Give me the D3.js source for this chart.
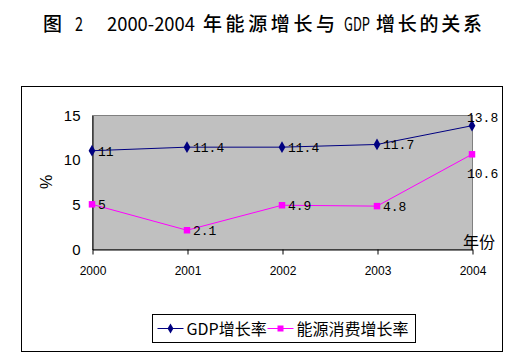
<!DOCTYPE html>
<html>
<head>
<meta charset="utf-8">
<script src="https://cdn.jsdelivr.net/npm/d3@7"></script>
<style>
  body { margin: 0; background: #fff; }
  svg { display: block; }
</style>
</head>
<body>
<div id="chart"></div>
<script>
    const years = ['2000', '2001', '2002', '2003', '2004'];
    const gdpGrowth = [11, 11.4, 11.4, 11.7, 13.8];
    const energyGrowth = [5, 2.1, 4.9, 4.8, 10.6];
    const yTicks = [0, 5, 10, 15];
    const seriesNames = ['GDP增长率', '能源消费增长率'];
    const titleParts = ['图', '2', '2000-2004', '年能源增长与', 'GDP', '增长的关系'];

    const width = 517,
          height = 362;

    const plot = { left: 92, right: 472, top: 115, bottom: 249 };

    let svg = d3.select('#chart')
        .append('svg')
        .attr('width', width)
        .attr('height', height);

    // title, laid out piece by piece like the spaced original
    const titleSpans = [[43, 19], [75, 8], [107, 88], [203, 132], [344, 26], [376, 106]];
    let title = svg.append('g')
        .style('font-family', '"Noto Sans CJK SC", sans-serif')
        .style('font-size', '19px')
        .attr('fill', '#000');
    titleParts.forEach((t, i) => {
        const latin = /^[0-9A-Z\-]+$/.test(t);
        const [x0, w] = titleSpans[i];
        let txt = title.append('text')
            .style('font-weight', latin ? 400 : 500)
            .text(t);
        if (latin) {
            // narrow latin glyphs: squeeze horizontally to the measured width
            const natural = txt.node().getComputedTextLength();
            txt.attr('transform', `translate(${x0},31) scale(${w / natural},1)`);
        } else {
            txt.attr('x', x0)
                .attr('y', 31)
                .attr('textLength', w)
                .attr('lengthAdjust', 'spacing');
        }
    });

    // outer chart frame
    svg.append('rect')
        .attr('x', 21.5)
        .attr('y', 86.5)
        .attr('width', 481)
        .attr('height', 265)
        .attr('fill', '#fff')
        .attr('stroke', '#000')
        .attr('stroke-width', 1);

    let x = d3.scalePoint()
        .domain(years)
        .range([plot.left, plot.right]);

    let y = d3.scaleLinear()
        .domain([0, 15])
        .range([plot.bottom, plot.top]);

    // plot area
    svg.append('rect')
        .attr('x', plot.left + 0.5)
        .attr('y', plot.top + 0.5)
        .attr('width', plot.right - plot.left)
        .attr('height', plot.bottom - plot.top)
        .attr('fill', '#c0c0c0')
        .attr('stroke', '#808080');

    // axes
    let xAxis = svg.append('g')
        .attr('transform', `translate(0.5,${plot.bottom + 0.5})`)
        .call(d3.axisBottom(x).tickSize(5).tickSizeOuter(0).tickPadding(12));
    xAxis.selectAll('text')
        .style('font-family', 'Arial, "Liberation Sans", sans-serif')
        .style('font-size', '12px')
        .attr('fill', '#000');

    let yAxis = svg.append('g')
        .attr('transform', `translate(${plot.left + 0.5},0.5)`)
        .call(d3.axisLeft(y).tickValues(yTicks).tickSize(0).tickPadding(12));
    yAxis.selectAll('text')
        .style('font-family', 'Arial, "Liberation Sans", sans-serif')
        .style('font-size', '15px')
        .attr('fill', '#000');

    svg.selectAll('.domain').attr('stroke', '#000');

    // axis titles
    svg.append('text')
        .attr('transform', `translate(52,182) rotate(-90)`)
        .attr('text-anchor', 'middle')
        .style('font-family', 'Arial, "Liberation Sans", sans-serif')
        .style('font-size', '16px')
        .text('%');

    svg.append('text')
        .attr('x', 463)
        .attr('y', 248)
        .style('font-family', '"Noto Sans CJK SC", sans-serif')
        .style('font-size', '16px')
        .text('年份');

    let series = [
        { name: seriesNames[0], values: gdpGrowth, color: '#000080', shape: d3.symbolDiamond },
        { name: seriesNames[1], values: energyGrowth, color: '#ff00ff', shape: d3.symbolSquare }
    ];

    let line = d3.line()
        .x((d, i) => x(years[i]))
        .y(d => y(d));

    series.forEach((s, k) => {
        let g = svg.append('g').classed('series', true);

        g.append('path')
            .datum(s.values)
            .attr('d', line)
            .attr('fill', 'none')
            .attr('stroke', s.color)
            .attr('stroke-width', 1);

        g.selectAll('.marker')
            .data(s.values)
            .enter()
            .append('path')
            .attr('d', d3.symbol().type(s.shape).size(k === 0 ? 40 : 42))
            .attr('transform', (d, i) => `translate(${x(years[i])},${y(d)})`)
            .attr('fill', s.color);

        // data labels: right of point, last point shifted above / below
        const last = s.values.length - 1;
        g.selectAll('.label')
            .data(s.values)
            .enter()
            .append('text')
            .attr('x', (d, i) => i === last ? x(years[i]) - 5 : x(years[i]) + 6)
            .attr('y', (d, i) => {
                if (i !== last) return y(d) + 5;
                return k === 0 ? y(d) - 4 : y(d) + 24;
            })
            .style('font-family', '"Liberation Mono", "DejaVu Sans Mono", monospace')
            .style('font-size', '13px')
            .attr('fill', '#000')
            .text(d => String(d));
    });

    // legend
    let legend = svg.append('g').attr('transform', 'translate(152.5,314.5)');
    legend.append('rect')
        .attr('width', 263)
        .attr('height', 28)
        .attr('fill', '#fff')
        .attr('stroke', '#000');

    const legendX = [5, 115];
    series.forEach((s, k) => {
        let item = legend.append('g').attr('transform', `translate(${legendX[k]},14)`);
        item.append('line')
            .attr('x1', 0).attr('x2', 26)
            .attr('stroke', s.color);
        item.append('path')
            .attr('d', d3.symbol().type(s.shape).size(k === 0 ? 30 : 36))
            .attr('transform', 'translate(13,0)')
            .attr('fill', s.color);
        item.append('text')
            .attr('x', 29)
            .attr('y', 6)
            .style('font-family', '"Noto Sans CJK SC", sans-serif')
            .style('font-size', '16px')
            .text(s.name);
    });
</script>
</body>
</html>
